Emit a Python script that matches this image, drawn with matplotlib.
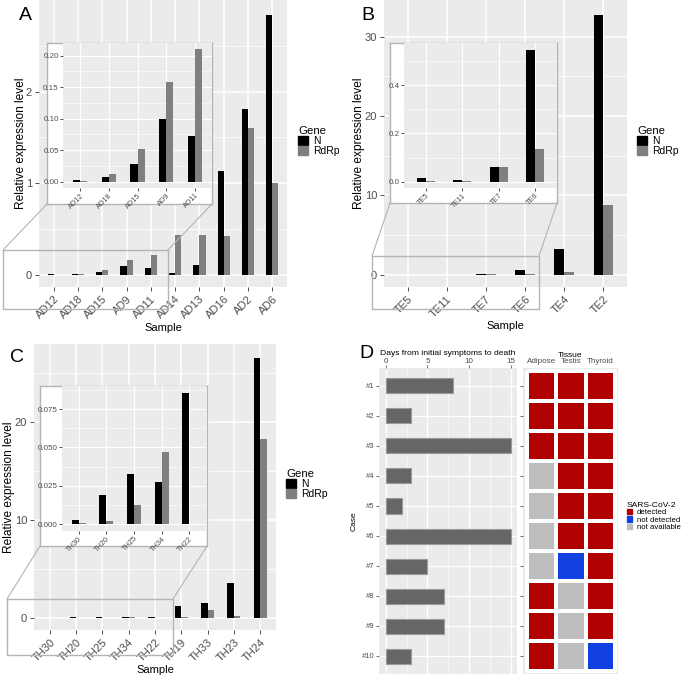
import numpy as np
import matplotlib
matplotlib.use("Agg")
import matplotlib.pyplot as plt
from matplotlib.patches import Rectangle, Patch
from matplotlib.lines import Line2D
from matplotlib.colors import ListedColormap

plt.rcParams["font.family"] = ["Liberation Sans", "DejaVu Sans"]

W, H = 685, 676

# ---- data ----
samples_a = ["AD12", "AD18", "AD15", "AD9", "AD11", "AD14", "AD13", "AD16", "AD2", "AD6"]
n_a = [0.0026, 0.0074, 0.0275, 0.0995, 0.072, 0.018, 0.105, 1.127, 1.807, 2.836]
r_a = [0.0004, 0.0116, 0.052, 0.158, 0.2106, 0.433, 0.436, 0.425, 1.607, 1.0]

samples_b = ["TE5", "TE11", "TE7", "TE6", "TE4", "TE2"]
n_b = [0.014, 0.008, 0.063, 0.548, 3.23, 32.7]
r_b = [0.002, 0.005, 0.059, 0.134, 0.29, 8.73]

samples_c = ["TH30", "TH20", "TH25", "TH34", "TH22", "TH19", "TH33", "TH23", "TH24"]
n_c = [0.0026, 0.019, 0.0326, 0.0278, 0.0853, 1.23, 1.47, 3.51, 26.6]
r_c = [0.0005, 0.002, 0.0128, 0.047, 0.0003, 0.10, 0.78, 0.15, 18.3]

cases = ["#1", "#2", "#3", "#4", "#5", "#6", "#7", "#8", "#9", "#10"]
days = [8, 3, 15, 3, 2, 15, 5, 7, 7, 3]
tissues = ["Adipose", "Testis", "Thyroid"]
adipose = ["detected", "detected", "detected", "not available", "not available",
           "not available", "not available", "detected", "detected", "detected"]
testis = ["detected", "detected", "detected", "detected", "detected", "detected",
          "not detected", "not available", "not available", "not available"]
thyroid = ["detected", "detected", "detected", "detected", "detected", "detected",
           "detected", "detected", "detected", "not detected"]
status_levels = ["detected", "not detected", "not available"]
status_colors = ["#B00000", "#1040E0", "#BEBEBE"]

PANEL_BG = "#EBEBEB"
N_COL = "black"
R_COL = "#7F7F7F"
TXT = "#4D4D4D"
BOX = "#B4B4B4"

fig = plt.figure(figsize=(W / 100, H / 100), dpi=100)


def box(l, t, r, b):
    return [l / W, 1 - b / H, (r - l) / W, (b - t) / H]


def fpt(x, y):
    return x / W, 1 - y / H


def gg_axes(rect):
    ax = fig.add_axes(box(*rect))
    ax.set_facecolor(PANEL_BG)
    for s in ax.spines.values():
        s.set_visible(False)
    ax.set_axisbelow(True)
    return ax


def bar_panel(ax, labels, n, r, ylim, yticks, yminor, ylabs, tick_fs, xtick_fs, lw=1.1):
    x = np.arange(len(labels))
    ax.bar(x - 0.125, n, 0.25, color=N_COL)
    ax.bar(x + 0.125, r, 0.25, color=R_COL)
    ax.set_xlim(-0.6, len(labels) - 0.4)
    ax.set_ylim(*ylim)
    ax.set_xticks(x)
    ax.set_xticklabels(labels, rotation=45, ha="right", va="top",
                       rotation_mode="anchor", fontsize=xtick_fs, color=TXT)
    ax.set_yticks(yticks)
    ax.set_yticklabels(ylabs, fontsize=tick_fs, color=TXT)
    ax.set_yticks(yminor, minor=True)
    ax.tick_params(which="major", length=3, width=0.6, color="#333333", pad=2)
    ax.tick_params(which="minor", length=0)
    ax.grid(True, which="major", color="white", lw=lw)
    ax.grid(True, which="minor", axis="y", color="white", lw=lw / 2)
    return ax


def inset(boxrect, panelrect, labels, n, r, ylim, yticks, yminor, ylabs):
    bg = fig.add_axes(box(*boxrect))
    bg.set_facecolor("white")
    bg.set_xticks([])
    bg.set_yticks([])
    for s in bg.spines.values():
        s.set_color(BOX)
        s.set_linewidth(1.0)
    ax = gg_axes(panelrect)
    bar_panel(ax, labels, n, r, ylim, yticks, yminor, ylabs, 5.8, 5.3, lw=0.8)
    ax.tick_params(which="major", length=2, pad=1)
    return ax


def zoom_marks(rect, ibox):
    l, t, r, b = rect
    fig.add_artist(Rectangle(fpt(l, b), (r - l) / W, (b - t) / H, transform=fig.transFigure,
                             fill=False, edgecolor=BOX, lw=1.0, zorder=3))
    fig.add_artist(Line2D([ibox[0] / W, l / W], [1 - ibox[3] / H, 1 - t / H],
                          transform=fig.transFigure, color=BOX, lw=0.8, zorder=3))
    fig.add_artist(Line2D([ibox[2] / W, r / W], [1 - ibox[3] / H, 1 - t / H],
                          transform=fig.transFigure, color=BOX, lw=0.8, zorder=3))


def gene_legend(x, y):
    fig.legend(handles=[Patch(color=N_COL), Patch(color=R_COL)], labels=["N", "RdRp"],
               title="Gene", loc="upper left", bbox_to_anchor=fpt(x, y), frameon=False,
               fontsize=7.5, title_fontsize=8.2, handlelength=0.95, handleheight=0.9,
               handletextpad=0.5, labelspacing=0.0, borderpad=0, borderaxespad=0,
               alignment="left")


def main_labels(ax, xcoord):
    ax.set_ylabel("Relative expression level", fontsize=8.6)
    ax.yaxis.set_label_coords(xcoord, 0.5)
    ax.set_xlabel("Sample", fontsize=8, labelpad=1.5)


# ---- panel A ----
ax_a = gg_axes((39, 0, 287, 287))
bar_panel(ax_a, samples_a, n_a, r_a, (-0.135, 3.0), [0, 1, 2], [0.5, 1.5, 2.5],
          ["0", "1", "2"], 8, 8)
main_labels(ax_a, -0.05)
zoom_marks((3, 250, 168, 309), (47, 43, 212, 204))
inset((47, 43, 212, 204), (63, 43, 212, 188), samples_a[:5], n_a[:5], r_a[:5],
      (-0.01, 0.22), [0, 0.05, 0.10, 0.15, 0.20], [0.025, 0.075, 0.125, 0.175],
      ["0.00", "0.05", "0.10", "0.15", "0.20"])
gene_legend(298, 126)

# ---- panel B ----
ax_b = gg_axes((384, 0, 627, 287))
bar_panel(ax_b, samples_b, n_b, r_b, (-1.55, 34.6), [0, 10, 20, 30], [5, 15, 25],
          ["0", "10", "20", "30"], 8, 8)
main_labels(ax_b, -0.078)
zoom_marks((372, 256, 539, 309), (390, 43, 557, 203))
inset((390, 43, 557, 203), (404, 43, 557, 188), samples_b[:4], n_b[:4], r_b[:4],
      (-0.026, 0.575), [0.0, 0.2, 0.4], [0.1, 0.3, 0.5], ["0.0", "0.2", "0.4"])
gene_legend(637, 126)

# ---- panel C ----
ax_c = gg_axes((34, 344, 276, 630))
bar_panel(ax_c, samples_c, n_c, r_c, (-1.26, 28.0), [0, 10, 20], [5, 15, 25],
          ["0", "10", "20"], 8, 8)
main_labels(ax_c, -0.078)
zoom_marks((7, 599, 173, 655), (40, 386, 207, 546))
inset((40, 386, 207, 546), (62, 386, 206, 531), samples_c[:5], n_c[:5], r_c[:5],
      (-0.0044, 0.09), [0, 0.025, 0.05, 0.075], [0.0125, 0.0375, 0.0625, 0.0875],
      ["0.000", "0.025", "0.050", "0.075"])
gene_legend(286, 469)

# ---- panel D: days ----
ax_d = gg_axes((379, 368, 517, 674))
y = np.arange(len(cases))
ax_d.barh(y, days, 0.5, color="#666666", edgecolor="#9A9A9A", lw=0.8)
ax_d.set_xlim(-0.8, 15.72)
ax_d.set_ylim(9.6, -0.6)
ax_d.xaxis.tick_top()
ax_d.xaxis.set_label_position("top")
ax_d.set_xticks([0, 5, 10, 15])
ax_d.set_xticklabels(["0", "5", "10", "15"], fontsize=5.8, color=TXT)
ax_d.set_xticks([2.5, 7.5, 12.5], minor=True)
ax_d.set_yticks(y)
ax_d.set_yticklabels(cases, fontsize=5.5, color=TXT)
ax_d.tick_params(which="major", length=2, width=0.5, color="#333333", pad=1)
ax_d.tick_params(axis="x", which="major", pad=0.5)
ax_d.tick_params(which="minor", length=0)
ax_d.grid(True, which="major", color="white", lw=0.9)
ax_d.grid(True, which="minor", axis="x", color="white", lw=0.45)
ax_d.set_xlabel("Days from initial symptoms to death", fontsize=6.1, labelpad=1.5)
ax_d.set_ylabel("Case", fontsize=6.1, labelpad=3)

# ---- panel D: tissue heatmap ----
ax_h = gg_axes((523, 368, 618, 674))
cols = [adipose, testis, thyroid]
grid = np.array([[status_levels.index(c[i]) for c in cols] for i in range(len(cases))])
ax_h.pcolormesh(np.arange(len(tissues) + 1) - 0.5, np.arange(len(cases) + 1) - 0.5, grid,
                cmap=ListedColormap(status_colors), vmin=-0.5, vmax=2.5,
                edgecolors="white", linewidth=1.5)
ax_h.set_xlim(-0.62, 2.6)
ax_h.set_ylim(9.6, -0.6)
ax_h.xaxis.tick_top()
ax_h.xaxis.set_label_position("top")
ax_h.set_xticks(np.arange(len(tissues)))
ax_h.set_xticklabels(tissues, fontsize=5.8, color=TXT)
ax_h.set_yticks(y)
ax_h.set_yticklabels([])
ax_h.tick_params(length=2, width=0.5, color="#333333", pad=1)
ax_h.tick_params(axis="x", length=0, pad=2)
ax_h.set_xlabel("Tissue", fontsize=6.1, labelpad=1)

fig.legend(handles=[Patch(color=c) for c in status_colors], labels=status_levels,
           title="SARS-CoV-2", loc="upper left", bbox_to_anchor=fpt(627, 502), frameon=False,
           fontsize=5.6, title_fontsize=6.1, handlelength=0.7, handleheight=0.7,
           handletextpad=0.6, labelspacing=0.0, borderpad=0, borderaxespad=0,
           alignment="left")

# panel letters
for letter, (px, py) in zip("ABCD", [(25, 15), (368, 15), (17, 357), (366, 354)]):
    fig.text(*fpt(px, py), letter, fontsize=14, ha="center", va="center")

fig.savefig("out.png", dpi=100)
